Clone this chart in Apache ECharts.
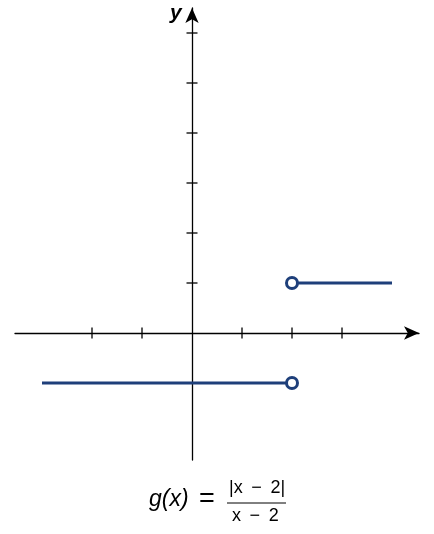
<!DOCTYPE html>
<html><head><meta charset="utf-8">
<script src="https://cdn.jsdelivr.net/npm/echarts@6/dist/echarts.min.js"></script>
<style>html,body{margin:0;padding:0;background:#fff}#c{width:434px;height:534px}</style>
</head><body><div id="c"></div>
<script>
const xTicks = [-2, -1, 1, 2, 3];
const yTicks = [1, 2, 3, 4, 5, 6];
const leftPiece = [[-3, -1], [2, -1]];
const rightPiece = [[2, 1], [4, 1]];
const openPoints = [[2, -1], [2, 1]];
const navy = '#1e3f7a';

const chart = echarts.init(document.getElementById('c'));
chart.setOption({
  animation: false,
  grid: { left: 15, right: 15, top: 8, bottom: 74 },
  xAxis: {
    type: 'value', min: -3.54, max: 4.54,
    splitLine: { show: false },
    axisLabel: { show: false },
    axisTick: { show: false },
    axisLine: { onZero: true, lineStyle: { color: '#000', width: 1.3 }, symbol: ['none', 'arrow'], symbolSize: [10, 15], symbolOffset: [0, 0] }
  },
  yAxis: {
    type: 'value', min: -2.54, max: 6.5,
    splitLine: { show: false },
    axisLabel: { show: false },
    axisTick: { show: false },
    axisLine: { onZero: true, lineStyle: { color: '#000', width: 1.3 }, symbol: ['none', 'arrow'], symbolSize: [10, 15], symbolOffset: [0, 0] }
  },
  series: [
    { type: 'scatter', data: xTicks.map(t => [t, 0]), symbol: 'rect', symbolSize: [1.3, 11], itemStyle: { color: '#000', opacity: 1 }, silent: true, z: 1 },
    { type: 'scatter', data: yTicks.map(t => [0, t]), symbol: 'rect', symbolSize: [11, 1.3], itemStyle: { color: '#000', opacity: 1 }, silent: true, z: 1 },
    { type: 'line', data: leftPiece, showSymbol: false, lineStyle: { color: navy, width: 3 }, z: 3 },
    { type: 'line', data: rightPiece, showSymbol: false, lineStyle: { color: navy, width: 3 }, z: 3 },
    { type: 'scatter', data: openPoints, symbol: 'circle', symbolSize: 11, itemStyle: { color: '#fff', borderColor: navy, borderWidth: 3, opacity: 1 }, z: 5 }
  ],
  graphic: [
    { type: 'text', left: 170, top: 3, style: { text: 'y', font: 'italic bold 21px "Liberation Sans", Arial, sans-serif', fill: '#000' } },
    { type: 'text', left: 149, top: 488, style: { text: 'g(x)', font: 'italic 23px "Liberation Sans", Arial, sans-serif', fill: '#000' } },
    { type: 'text', left: 199, top: 486, style: { text: '=', font: '27px "Liberation Sans", Arial, sans-serif', fill: '#000' } },
    { type: 'text', left: 229, top: 479, style: { text: '|x \u2009− \u20092|', font: '18px "Liberation Sans", Arial, sans-serif', fill: '#000' } },
    { type: 'line', shape: { x1: 227, y1: 503, x2: 286, y2: 503 }, style: { stroke: '#000', lineWidth: 1 } },
    { type: 'text', left: 232, top: 507, style: { text: 'x \u2009− \u20092', font: '18px "Liberation Sans", Arial, sans-serif', fill: '#000' } }
  ]
});
</script></body></html>
